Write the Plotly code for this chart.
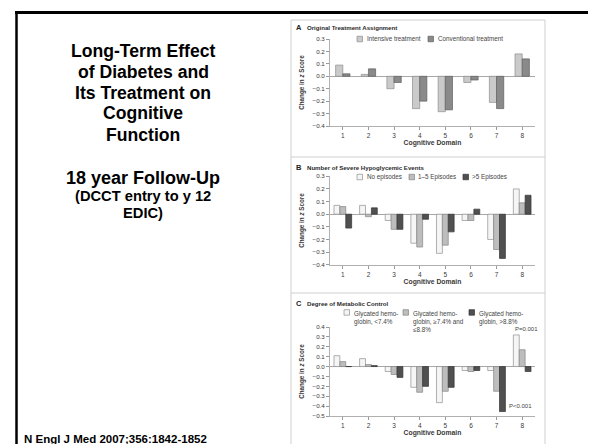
import html
import plotly.graph_objects as go

W, H = 596, 444

# ---------------- data ----------------
domains = [1, 2, 3, 4, 5, 6, 7, 8]
domain_labels = ["1", "2", "3", "4", "5", "6", "7", "8"]

a_names = ["Intensive treatment", "Conventional treatment"]
a_intensive = [0.09, 0.015, -0.10, -0.26, -0.285, -0.05, -0.21, 0.18]
a_conventional = [0.02, 0.06, -0.05, -0.20, -0.27, -0.03, -0.26, 0.14]

b_names = ["No episodes", "1\u20135 Episodes", ">5 Episodes"]
b_none = [0.07, 0.07, -0.05, -0.23, -0.31, -0.05, -0.20, 0.20]
b_one_to_five = [0.06, -0.02, -0.12, -0.26, -0.245, -0.05, -0.28, 0.09]
b_over_five = [-0.11, 0.05, -0.12, -0.04, -0.14, 0.04, -0.35, 0.15]

c_names = [["Glycated hemo-", "globin, <7.4%"],
           ["Glycated hemo-", "globin, \u22657.4% and", "\u22648.8%"],
           ["Glycated hemo-", "globin, >8.8%"]]
c_low = [0.11, 0.08, -0.05, -0.21, -0.365, -0.04, -0.04, 0.32]
c_mid = [0.05, 0.02, -0.08, -0.26, -0.25, -0.05, -0.25, 0.17]
c_high = [0.0, 0.01, -0.11, -0.20, -0.21, -0.04, -0.455, -0.05]

panel_titles = [("A", "Original Treatment Assignment"),
                ("B", "Number of Severe Hypoglycemic Events"),
                ("C", "Degree of Metabolic Control")]
p_labels = ["P=0.001", "P<0.001"]

slide_title = ["Long-Term Effect", "of Diabetes and", "Its Treatment on", "Cognitive", "Function"]
slide_sub = ["18 year Follow-Up"]
slide_sub2 = ["(DCCT entry to y 12", "EDIC)"]
citation = "N Engl J Med 2007;356:1842-1852"

# ---------------- helpers ----------------
def px(x):
    return x / W

def py(y):
    return 1 - y / H

FONT = "Liberation Sans, Arial, sans-serif"
TXT = "#3a3a3a"

fig = go.Figure()

A_COLS = [("#cacaca", "#8c8c8c"), ("#8a8a8a", "#5f5f5f")]
BC_COLS = [("#f5f5f5", "#8f8f8f"), ("#bdbdbd", "#858585"), ("#505050", "#333333")]

# Panel A bars
for vals, (fc, lc), off in zip([a_intensive, a_conventional], A_COLS, [-0.28, 0.0]):
    fig.add_trace(go.Bar(x=domains, y=vals, xaxis="x", yaxis="y", width=0.28, offset=off,
                         marker=dict(color=fc, line=dict(color=lc, width=0.7)), showlegend=False))
# Panel B bars
for vals, (fc, lc), off in zip([b_none, b_one_to_five, b_over_five], BC_COLS, [-0.345, -0.115, 0.115]):
    fig.add_trace(go.Bar(x=domains, y=vals, xaxis="x2", yaxis="y2", width=0.23, offset=off,
                         marker=dict(color=fc, line=dict(color=lc, width=0.7)), showlegend=False))
# Panel C bars
for vals, (fc, lc), off in zip([c_low, c_mid, c_high], BC_COLS, [-0.345, -0.115, 0.115]):
    fig.add_trace(go.Bar(x=domains, y=vals, xaxis="x3", yaxis="y3", width=0.23, offset=off,
                         marker=dict(color=fc, line=dict(color=lc, width=0.7)), showlegend=False))

xdom = [px(322), px(527)]
panels = [  # (y top px, y bottom px, range)
    (31, 118, [-0.4, 0.3]),
    (168.3, 256.7, [-0.4, 0.3]),
    (319, 408, [-0.5, 0.4]),
]

layout = dict(
    width=W, height=H, margin=dict(l=0, r=0, t=0, b=0),
    paper_bgcolor="white", plot_bgcolor="white",
    barmode="overlay", font=dict(family=FONT, color=TXT),
)
for i, (ytop, ybot, rng) in enumerate(panels):
    sfx = "" if i == 0 else str(i + 1)
    layout["xaxis" + sfx] = dict(
        domain=xdom, anchor="y" + sfx, range=[0.5, 8.5],
        tickmode="array", tickvals=domains, ticktext=domain_labels,
        ticks="outside", ticklen=3, tickcolor="#9a9a9a", tickwidth=0.8,
        showline=True, linecolor="#b0b0b0", linewidth=1,
        showgrid=False, zeroline=False, automargin=False,
        tickfont=dict(size=6.5, color=TXT),
        title=dict(text="<b>Cognitive Domain</b>", font=dict(size=6.8, color=TXT), standoff=2),
    )
    layout["yaxis" + sfx] = dict(
        domain=[py(ybot), py(ytop)], anchor="x" + sfx, range=rng,
        dtick=0.1, tick0=0, tickformat=".1f",
        ticks="outside", ticklen=3, tickcolor="#9a9a9a", tickwidth=0.8,
        showline=True, linecolor="#b0b0b0", linewidth=1,
        showgrid=False, zeroline=True, zerolinecolor="#a8a8a8", zerolinewidth=1,
        automargin=False, tickfont=dict(size=6.2, color=TXT),
        title=dict(text="<b>Change in <i>z</i> Score</b>", font=dict(size=6.3, color=TXT), standoff=7),
    )
fig.update_layout(**layout)

shapes = []
annotations = []

# slide border
shapes.append(dict(type="line", xref="paper", yref="paper", x0=px(7), x1=px(594), y0=py(4.5), y1=py(4.5),
                   line=dict(color="black", width=3)))
shapes.append(dict(type="line", xref="paper", yref="paper", x0=px(8.5), x1=px(8.5), y0=py(4), y1=py(444),
                   line=dict(color="black", width=2.5)))
shapes.append(dict(type="line", xref="paper", yref="paper", x0=px(593), x1=px(593), y0=py(4), y1=py(444),
                   line=dict(color="black", width=2)))

# figure panel frames
shapes.append(dict(type="rect", xref="paper", yref="paper", x0=px(283), x1=px(537), y0=py(437), y1=py(12),
                   line=dict(color="#cfcfcf", width=1)))
for yy in (149, 285):
    shapes.append(dict(type="line", xref="paper", yref="paper", x0=px(283), x1=px(537), y0=py(yy), y1=py(yy),
                       line=dict(color="#cfcfcf", width=1)))

# panel titles
for (letter, title), ty in zip(panel_titles, [19.3, 159, 295.7]):
    annotations.append(dict(xref="paper", yref="paper", x=px(286), y=py(ty), xanchor="left", yanchor="middle",
                            text="<b>" + letter + "</b>", showarrow=False,
                            font=dict(size=7.5, color="#222", family=FONT)))
    annotations.append(dict(xref="paper", yref="paper", x=px(296.5), y=py(ty), xanchor="left", yanchor="middle",
                            text="<b>" + html.escape(title) + "</b>", showarrow=False,
                            font=dict(size=6.1, color="#2a2a2a", family=FONT)))

def legend_item(box_x, text_x, yc, label_lines, fc, lc, top=None):
    s = 5.5
    if top is None:
        y0, y1 = yc - s / 2, yc + s / 2
        ann_y, yanchor = py(yc), "middle"
    else:
        y0, y1 = top + 1.2, top + 1.2 + s
        ann_y, yanchor = py(top - 0.5), "top"
    shapes.append(dict(type="rect", xref="paper", yref="paper", x0=px(box_x), x1=px(box_x + s),
                       y0=py(y1), y1=py(y0), fillcolor=fc, line=dict(color=lc, width=0.7)))
    annotations.append(dict(xref="paper", yref="paper", x=px(text_x), y=ann_y, xanchor="left", yanchor=yanchor,
                            align="left", showarrow=False,
                            text="<br>".join(html.escape(t) for t in label_lines),
                            font=dict(size=6.3, color="#444", family=FONT)))

for name, (fc, lc), bx, tx in zip(a_names, A_COLS, [349, 420], [357, 428]):
    legend_item(bx, tx, 31, [name], fc, lc)
for name, (fc, lc), bx, tx in zip(b_names, BC_COLS, [349, 401, 455], [357, 408, 462]):
    legend_item(bx, tx, 169, [name], fc, lc)
for lines, (fc, lc), bx, tx in zip(c_names, BC_COLS, [336, 395, 461], [344, 403, 469]):
    legend_item(bx, tx, None, lines, fc, lc, top=300.5)

# P-value annotations in panel C
annotations.append(dict(xref="x3", yref="y3", x=8.16, y=0.375, xanchor="center", yanchor="middle",
                        text=html.escape(p_labels[0]), showarrow=False, font=dict(size=6, color="#444", family=FONT)))
annotations.append(dict(xref="x3", yref="y3", x=7.42, y=-0.394, xanchor="left", yanchor="middle",
                        text=html.escape(p_labels[1]), showarrow=False, font=dict(size=6, color="#444", family=FONT)))

# slide text
for line, ty in zip(slide_title, [43, 63.5, 84.5, 105.5, 126.5]):
    annotations.append(dict(xref="paper", yref="paper", x=px(135), y=py(ty), xanchor="center", yanchor="middle",
                            text="<b>" + line + "</b>", showarrow=False,
                            font=dict(size=17.6, color="black", family=FONT)))
for line, ty in zip(slide_sub, [170]):
    annotations.append(dict(xref="paper", yref="paper", x=px(135), y=py(ty), xanchor="center", yanchor="middle",
                            text="<b>" + line + "</b>", showarrow=False,
                            font=dict(size=18, color="black", family=FONT)))
for line, ty in zip(slide_sub2, [188, 205]):
    annotations.append(dict(xref="paper", yref="paper", x=px(135), y=py(ty), xanchor="center", yanchor="middle",
                            text="<b>" + line + "</b>", showarrow=False,
                            font=dict(size=14.7, color="black", family=FONT)))
annotations.append(dict(xref="paper", yref="paper", x=px(14), y=py(431), xanchor="left", yanchor="middle",
                        text="<b>" + citation + "</b>", showarrow=False,
                        font=dict(size=11.5, color="black", family=FONT)))

fig.update_layout(shapes=shapes, annotations=annotations)
fig.write_html("out.html")
